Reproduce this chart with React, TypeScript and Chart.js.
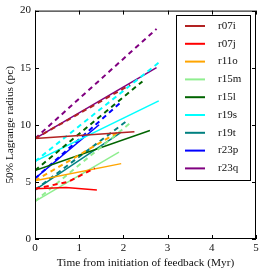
import React, { useEffect, useRef } from "react";
import { Chart, registerables } from "chart.js";

Chart.register(...registerables);

const runNames = ["r07i", "r07j", "r11o", "r15m", "r15l", "r19s", "r19t", "r23p", "r23q"];
const runColors = ["#b22222", "#ff0000", "#ffa500", "#90ee90", "#006400", "#00ffff", "#008080", "#0000ff", "#800080"];

// solid: one radius measure; dashed: the other
const r07iSolidT = [0, 2.25];
const r07iSolidR = [8.8, 9.4];
const r07iDashT = [0, 2.15];
const r07iDashR = [8.8, 13.5];

const r07jSolidT = [0, 0.7, 1.4];
const r07jSolidR = [4.4, 4.5, 4.3];
const r07jDashT = [0, 0.75, 1.35];
const r07jDashR = [4.4, 5.0, 6.2];

const r11oSolidT = [0, 1.95];
const r11oSolidR = [5.1, 6.6];
const r11oDashT = [0, 1.9];
const r11oDashR = [5.1, 9.4];

const r15mSolidT = [0, 1.9];
const r15mSolidR = [3.3, 7.6];
const r15mDashT = [0, 2.2];
const r15mDashR = [3.3, 10.3];

const r15lSolidT = [0, 2.6];
const r15lSolidR = [6.0, 9.5];
const r15lDashT = [0, 2.43];
const r15lDashR = [6.0, 13.8];

const r19sSolidT = [0, 2.8];
const r19sSolidR = [6.8, 12.1];
const r19sDashT = [0, 2.85];
const r19sDashR = [6.8, 15.6];

const r19tSolidT = [0, 1.93];
const r19tSolidR = [4.3, 9.3];
const r19tDashT = [0, 2.1];
const r19tDashR = [4.3, 10.4];

const r23pSolidT = [0, 1.45];
const r23pSolidR = [5.3, 10.0];
const r23pDashT = [0, 1.95];
const r23pDashR = [5.3, 12.0];

const r23qSolidT = [0, 2.75];
const r23qSolidR = [8.8, 15.0];
const r23qDashT = [0, 2.75];
const r23qDashR = [8.8, 18.4];

const solidT = [r07iSolidT, r07jSolidT, r11oSolidT, r15mSolidT, r15lSolidT, r19sSolidT, r19tSolidT, r23pSolidT, r23qSolidT];
const solidR = [r07iSolidR, r07jSolidR, r11oSolidR, r15mSolidR, r15lSolidR, r19sSolidR, r19tSolidR, r23pSolidR, r23qSolidR];
const dashT = [r07iDashT, r07jDashT, r11oDashT, r15mDashT, r15lDashT, r19sDashT, r19tDashT, r23pDashT, r23qDashT];
const dashR = [r07iDashR, r07jDashR, r11oDashR, r15mDashR, r15lDashR, r19sDashR, r19tDashR, r23pDashR, r23qDashR];

const xTicks = [0, 1, 2, 3, 4, 5];
const yTicks = [0, 5, 10, 15, 20];
const xTitle = "Time from initiation of feedback (Myr)";
const yTitle = "50% Lagrange radius (pc)";

const FONT = "'Liberation Serif', 'DejaVu Serif', serif";

const framePlugin = {
  id: "frame",
  afterDatasetsDraw(chart: any) {
    const ctx = chart.ctx;
    const a = chart.chartArea;
    const xs = chart.scales.x;
    const ys = chart.scales.y;
    ctx.save();
    ctx.strokeStyle = "#000";
    ctx.lineWidth = 1;
    ctx.strokeRect(a.left + 0.5, a.top + 0.5, a.right - a.left - 1, a.bottom - a.top - 1);
    const tl = 4;
    ctx.beginPath();
    for (const t of xTicks) {
      const px = Math.round(xs.getPixelForValue(t)) + 0.5;
      ctx.moveTo(px, a.bottom);
      ctx.lineTo(px, a.bottom - tl);
      ctx.moveTo(px, a.top);
      ctx.lineTo(px, a.top + tl);
    }
    for (const t of yTicks) {
      const py = Math.round(ys.getPixelForValue(t)) + 0.5;
      ctx.moveTo(a.left, py);
      ctx.lineTo(a.left + tl, py);
      ctx.moveTo(a.right, py);
      ctx.lineTo(a.right - tl, py);
    }
    ctx.stroke();

    // legend
    const lx = 176, ly = 15, lw = 74, lh = 165;
    ctx.fillStyle = "#fff";
    ctx.fillRect(lx, ly, lw, lh);
    ctx.strokeStyle = "#000";
    ctx.strokeRect(lx + 0.5, ly + 0.5, lw, lh);
    ctx.font = "11px " + FONT;
    ctx.textBaseline = "middle";
    ctx.textAlign = "left";
    runNames.forEach((n, i) => {
      const y = 26 + i * 17.8;
      ctx.strokeStyle = runColors[i];
      ctx.lineWidth = 2;
      ctx.beginPath();
      ctx.moveTo(185, y);
      ctx.lineTo(205, y);
      ctx.stroke();
      ctx.fillStyle = "#111";
      ctx.fillText(n, 218, y);
    });
    ctx.restore();
  },
};

export default function App() {
  const ref = useRef<HTMLCanvasElement | null>(null);
  useEffect(() => {
    document.body.style.margin = "0";
    const datasets: any[] = [];
    runNames.forEach((n, i) => {
      datasets.push({
        label: n,
        data: solidT[i].map((t, j) => ({ x: t, y: solidR[i][j] })),
        borderColor: runColors[i],
        borderWidth: 1.5,
        pointRadius: 0,
        fill: false,
        showLine: true,
      });
      datasets.push({
        label: n + " dashed",
        data: dashT[i].map((t, j) => ({ x: t, y: dashR[i][j] })),
        borderColor: runColors[i],
        borderWidth: 2,
        borderDash: [5, 4],
        pointRadius: 0,
        fill: false,
        showLine: true,
      });
    });
    const chart = new Chart(ref.current!, {
      type: "scatter",
      data: { datasets },
      options: {
        animation: false,
        responsive: false,
        maintainAspectRatio: false,
        layout: { padding: { top: 10, right: 10, left: 0, bottom: 0 } },
        plugins: { legend: { display: false }, tooltip: { enabled: false } },
        scales: {
          x: {
            type: "linear",
            min: 0,
            max: 5,
            afterFit: (s: any) => { s.height = 35; },
            afterBuildTicks: (s: any) => { s.ticks = xTicks.map((v) => ({ value: v })); },
            grid: { display: false, drawTicks: false },
            border: { display: false },
            ticks: { padding: 3, color: "#111", font: { family: FONT, size: 11 } },
            title: { display: true, text: xTitle, color: "#111", font: { family: FONT, size: 11.3 }, padding: { top: 0, bottom: 4 } },
          },
          y: {
            type: "linear",
            min: 0,
            max: 20,
            afterFit: (s: any) => { s.width = 35; },
            afterBuildTicks: (s: any) => { s.ticks = yTicks.map((v) => ({ value: v })); },
            grid: { display: false, drawTicks: false },
            border: { display: false },
            ticks: { padding: 4, color: "#111", font: { family: FONT, size: 11 } },
            title: { display: true, text: yTitle, color: "#111", font: { family: FONT, size: 11.3 }, padding: { top: 3, bottom: 0 } },
          },
        },
      },
      plugins: [framePlugin],
    });
    return () => chart.destroy();
  }, []);
  return (
    <div style={{ position: "absolute", left: 0, top: 0, width: 266, height: 274 }}>
      <canvas ref={ref} width={266} height={274} style={{ width: 266, height: 274 }} />
    </div>
  );
}
